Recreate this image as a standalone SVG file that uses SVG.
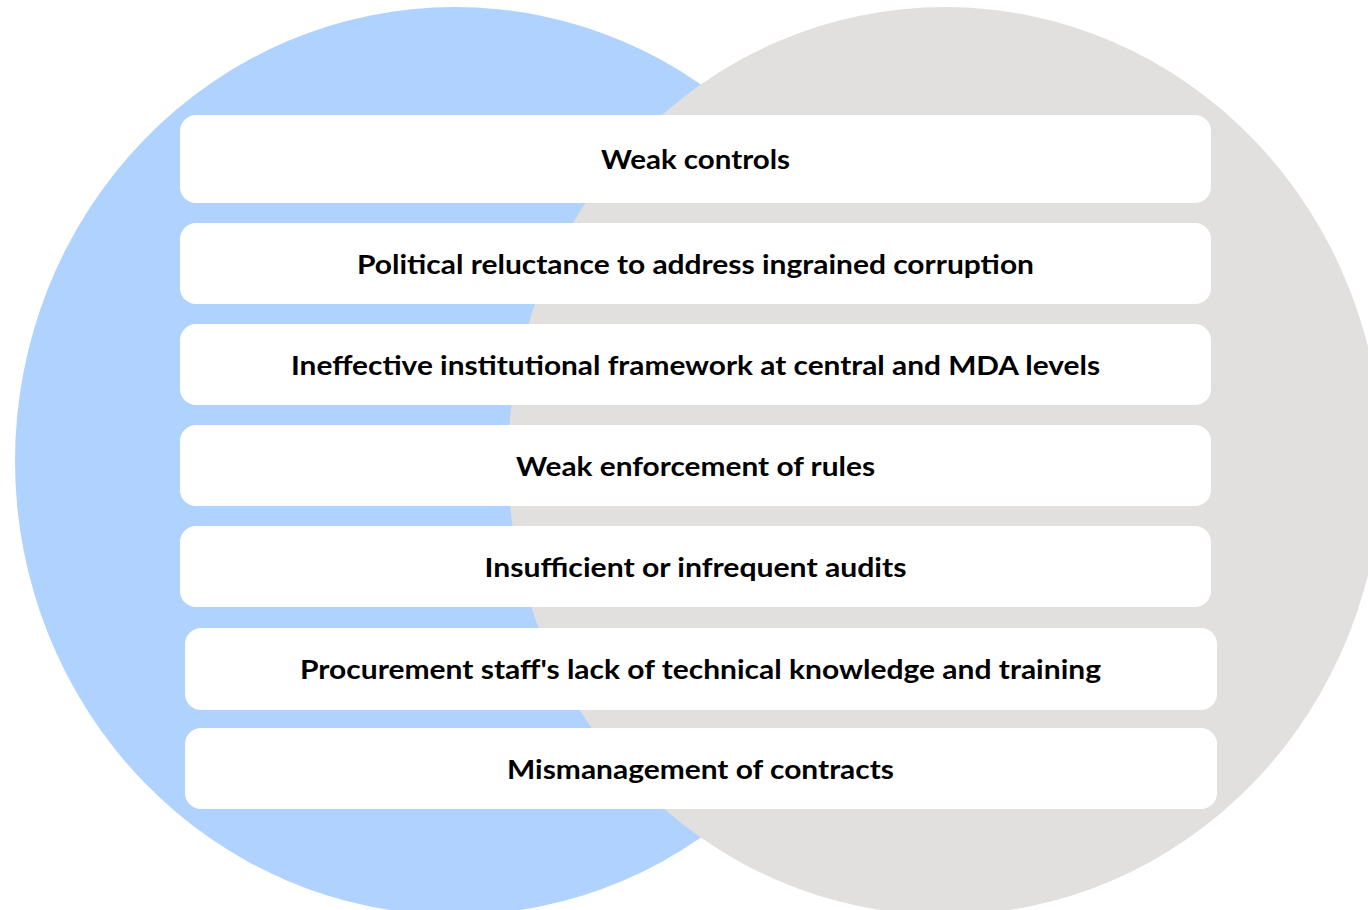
<svg xmlns="http://www.w3.org/2000/svg" width="1368" height="910" viewBox="0 0 1368 910">
<style>
.box{fill:#ffffff;}
.lbl{font-family:Lato,"Open Sans","Liberation Sans",sans-serif;font-weight:700;font-size:26px;fill:#000000;text-anchor:middle;}
</style>
<rect x="0" y="0" width="1368" height="910" fill="#ffffff"/>
<g id="circles">
<ellipse id="blue-circle" cx="455" cy="461" rx="440" ry="454" fill="#B0D2FE"/>
<ellipse id="gray-circle" cx="945" cy="461" rx="437" ry="454" fill="#E1E0DE"/>
</g>
<g id="connectors"></g>
<g id="node1"><rect class="box" x="180" y="115" width="1031" height="88" rx="16"/><text class="lbl" x="695.5" y="169" textLength="189" lengthAdjust="spacingAndGlyphs">Weak controls</text></g>
<g id="node2"><rect class="box" x="180" y="223" width="1031" height="81" rx="16"/><text class="lbl" x="695.5" y="273.5" textLength="677" lengthAdjust="spacingAndGlyphs">Political reluctance to address ingrained corruption</text></g>
<g id="node3"><rect class="box" x="180" y="324" width="1031" height="81" rx="16"/><text class="lbl" x="695.5" y="374.5" textLength="809" lengthAdjust="spacingAndGlyphs">Ineffective institutional framework at central and MDA levels</text></g>
<g id="node4"><rect class="box" x="180" y="425" width="1031" height="81" rx="16"/><text class="lbl" x="695.5" y="475.5" textLength="359" lengthAdjust="spacingAndGlyphs">Weak enforcement of rules</text></g>
<g id="node5"><rect class="box" x="180" y="526" width="1031" height="81" rx="16"/><text class="lbl" x="695.5" y="576.5" textLength="422" lengthAdjust="spacingAndGlyphs">Insufficient or infrequent audits</text></g>
<g id="node6"><rect class="box" x="185" y="628" width="1032" height="82" rx="16"/><text class="lbl" x="700.5" y="679" textLength="801" lengthAdjust="spacingAndGlyphs">Procurement staff's lack of technical knowledge and training</text></g>
<g id="node7"><rect class="box" x="185" y="728" width="1032" height="81" rx="16"/><text class="lbl" x="700.5" y="778.5" textLength="387" lengthAdjust="spacingAndGlyphs">Mismanagement of contracts</text></g>
</svg>
